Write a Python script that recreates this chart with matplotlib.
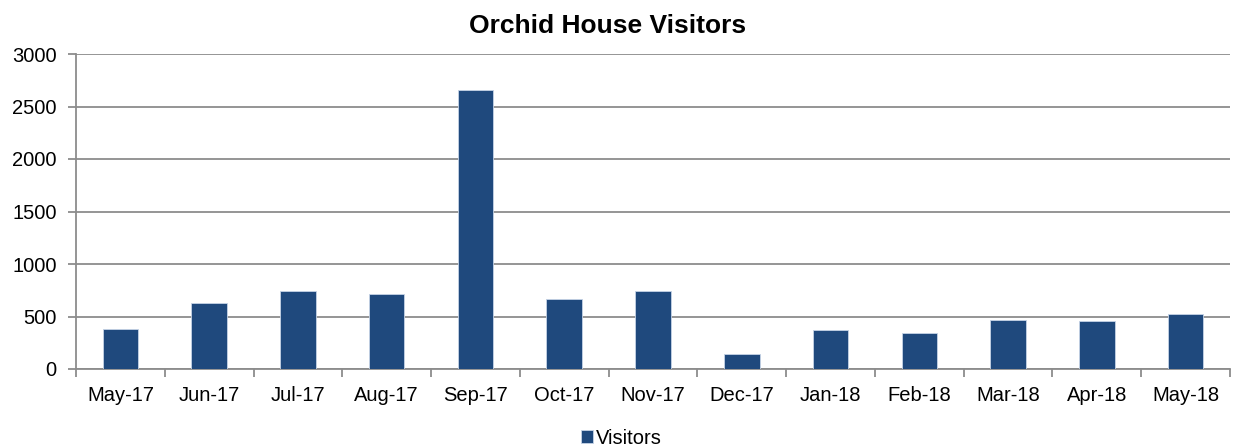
import numpy as np
import matplotlib.pyplot as plt

months = ['May-17', 'Jun-17', 'Jul-17', 'Aug-17', 'Sep-17', 'Oct-17', 'Nov-17',
          'Dec-17', 'Jan-18', 'Feb-18', 'Mar-18', 'Apr-18', 'May-18']
visitors = [385, 625, 745, 718, 2658, 670, 745, 140, 375, 340, 470, 460, 525]
yticks = [0, 500, 1000, 1500, 2000, 2500, 3000]

plt.rcParams['font.family'] = ['Liberation Sans', 'DejaVu Sans']

fig = plt.figure(figsize=(12.43, 4.47), dpi=100)
ax = fig.add_axes([76 / 1243, 1 - 369 / 447, (1230 - 76) / 1243, (369 - 54) / 447])

x = np.arange(len(months))
ax.bar(x, visitors, width=0.4, color='#1F497D', edgecolor='#c5d3e6', linewidth=0.6,
       label='Visitors', zorder=3)

ax.set_xlim(-0.5, len(months) - 0.5)
ax.set_ylim(0, 3000)
ax.set_yticks(yticks)
ax.set_yticklabels([str(v) for v in yticks], fontsize=14.5)
ax.yaxis.grid(True, color='#8c8c8c', linewidth=1.3, zorder=0)

# ticks between categories, labels centered
ax.set_xticks(np.arange(-0.5, len(months), 1))
ax.set_xticklabels([])
ax.set_xticks(x, minor=True)
ax.set_xticklabels(months, minor=True, fontsize=14.5)
ax.tick_params(axis='x', which='minor', length=0, pad=12)
ax.tick_params(axis='x', which='major', length=6, width=1.3, color='#8c8c8c', direction='out')
ax.tick_params(axis='y', length=6, width=1.3, color='#8c8c8c', direction='out', pad=8)

for side in ['top', 'right']:
    ax.spines[side].set_visible(False)
for side in ['left', 'bottom']:
    ax.spines[side].set_color('#8c8c8c')
    ax.spines[side].set_linewidth(1.3)

fig.text(608 / 1243, 1 - 26 / 447, 'Orchid House Visitors', fontsize=19, fontweight='bold',
         ha='center', va='center')

fig.legend(loc='center', bbox_to_anchor=(621 / 1243, 1 - 438 / 447), frameon=False,
           fontsize=14.5, handlelength=0.6, handleheight=0.6, handletextpad=0.15,
           borderpad=0, borderaxespad=0)

fig.savefig('out.png', dpi=100)
